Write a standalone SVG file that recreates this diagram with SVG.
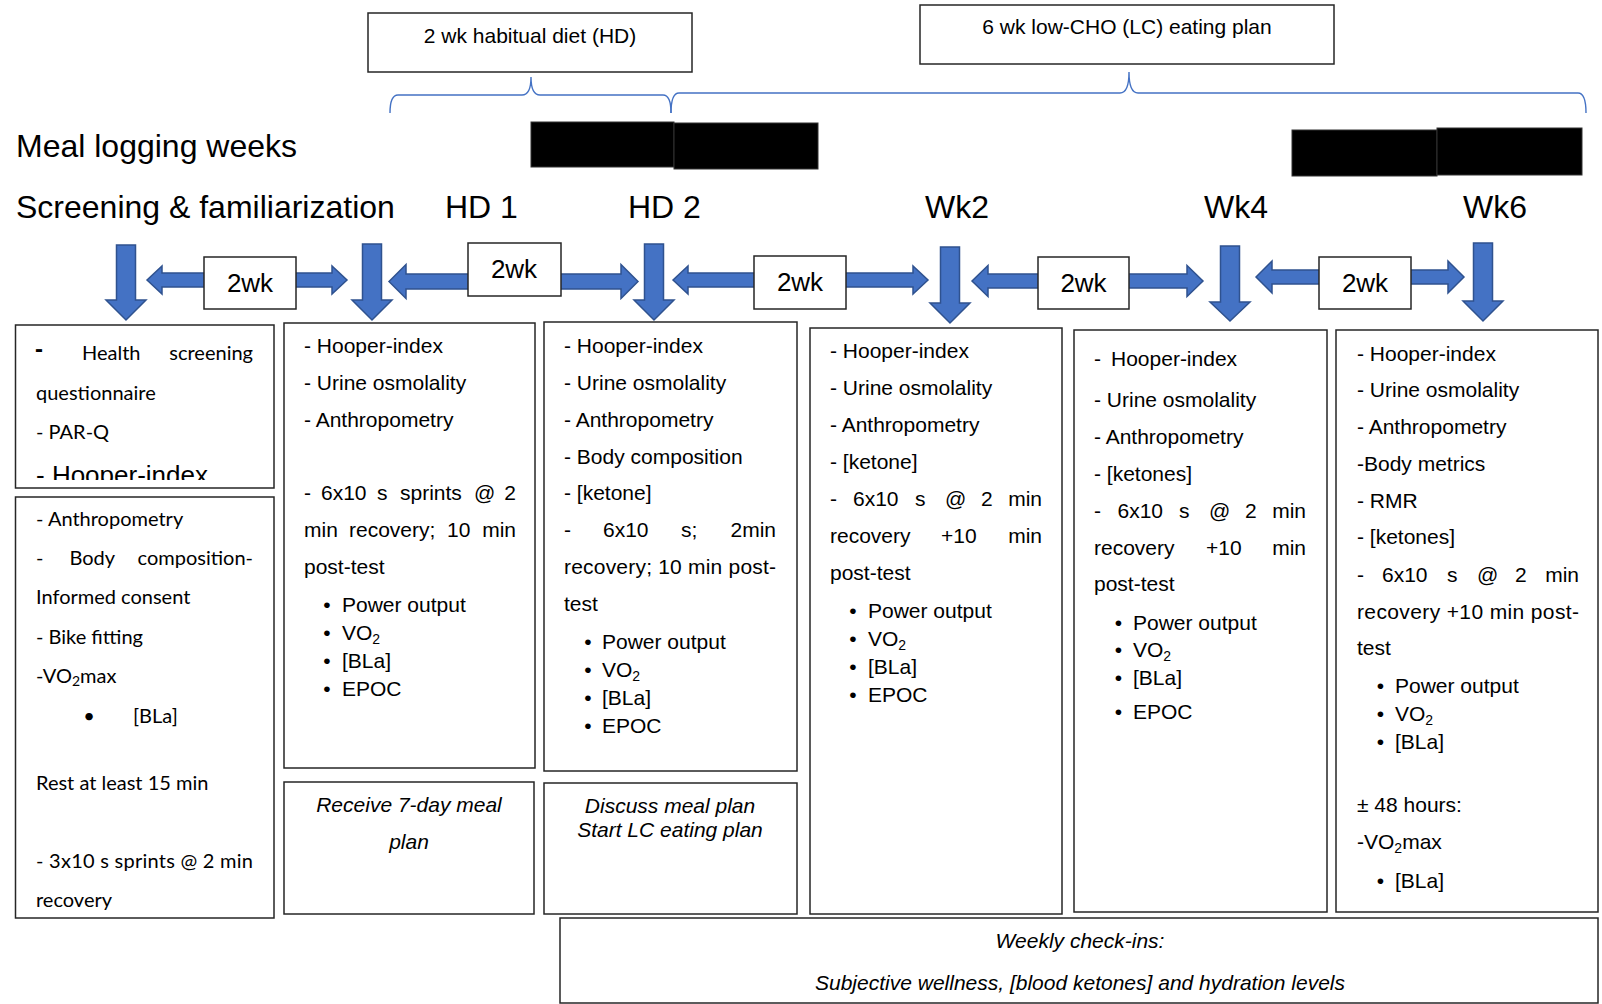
<svg xmlns="http://www.w3.org/2000/svg" width="1602" height="1004" viewBox="0 0 1602 1004">
<style>
.box{fill:#fff;stroke:#262626;stroke-width:1.5}
.arr{fill:#4472C4;stroke:#2F528F;stroke-width:1.5;stroke-linejoin:miter}
.brace{fill:none;stroke:#4472C4;stroke-width:1.4}
.bar{fill:#000;stroke:#333;stroke-width:1}
.t{font-family:"Liberation Sans",Arial,sans-serif;font-size:21px;fill:#000}
.h{font-family:"Liberation Sans",Arial,sans-serif;font-size:32px;fill:#000}
.w{font-family:"Liberation Sans",Arial,sans-serif;font-size:26px;fill:#000;text-anchor:middle}
.c{font-family:Lato,"Open Sans",sans-serif;font-size:20px;fill:#000}
.i{font-style:italic}
.m{text-anchor:middle}
.e{text-anchor:end}
.sub{font-size:14px}
</style>
<defs>
<clipPath id="clip1a"><rect x="15" y="325" width="260" height="155"/></clipPath>
<clipPath id="clip1b"><rect x="15" y="497" width="260" height="414"/></clipPath>
</defs>

<g id="period-hd">
<rect class="box" x="368" y="13" width="324" height="59"/>
<text class="t m" x="530" y="43">2 wk habitual diet (HD)</text>
</g>
<g id="period-lc">
<rect class="box" x="920" y="5" width="414" height="59"/>
<text class="t m" x="1127" y="34">6 wk low-CHO (LC) eating plan</text>
</g>

<g id="braces">
<path class="brace" d="M390,113 Q390,95 398,95 H522 Q531,95 531,77 Q531,95 540,95 H663 Q671,95 671,113"/>
<path class="brace" d="M671,113 Q671,93 679,93 H1120 Q1129,93 1129,72 Q1129,93 1138,93 H1578 Q1586,93 1586,113"/>
</g>

<g id="meal-logging">
<text class="h" x="16" y="157">Meal logging weeks</text>
<rect class="bar" x="531" y="122" width="143" height="45"/>
<rect class="bar" x="674" y="123" width="144" height="46"/>
<rect class="bar" x="1292" y="130" width="145" height="46"/>
<rect class="bar" x="1437" y="128" width="145" height="47"/>
</g>

<g id="headers">
<text class="h" x="16" y="218">Screening &amp; familiarization</text>
<text class="h" x="445" y="218">HD 1</text>
<text class="h" x="628" y="218">HD 2</text>
<text class="h" x="925" y="218">Wk2</text>
<text class="h" x="1204" y="218">Wk4</text>
<text class="h" x="1463" y="218">Wk6</text>
</g>

<g id="connectors">
<path class="arr" d="M116.5,245 H135.5 V300 H146 L126,320 L106,300 H116.5 Z"/>
<path class="arr" d="M362.5,244 H381.5 V300 H392 L372,320 L352,300 H362.5 Z"/>
<path class="arr" d="M644.5,244 H663.5 V300 H674 L654,320 L634,300 H644.5 Z"/>
<path class="arr" d="M940.5,247 H959.5 V303 H970 L950,323 L930,303 H940.5 Z"/>
<path class="arr" d="M1220.5,246 H1239.5 V302 H1250 L1230,321 L1210,302 H1220.5 Z"/>
<path class="arr" d="M1473.5,243 H1492.5 V301 H1503 L1483,321 L1463,301 H1473.5 Z"/>

<path class="arr" d="M147,280 L162,266 V273 H332 V266 L347,280 L332,294 V287 H162 V294 Z"/>
<path class="arr" d="M389,281.5 L406,264.5 V274 H621 V264.5 L638,281.5 L621,298.5 V289 H406 V298.5 Z"/>
<path class="arr" d="M673,280 L688,266 V273 H913 V266 L928,280 L913,294 V287 H688 V294 Z"/>
<path class="arr" d="M972,281 L988,265.5 V274 H1187 V265.5 L1203,281 L1187,296.5 V288 H988 V296.5 Z"/>
<path class="arr" d="M1256,277 L1272,261 V270 H1448 V261 L1464,277 L1448,293 V284 H1272 V293 Z"/>
</g>

<g id="gap1"><rect class="box" x="204" y="257" width="92" height="52"/><text class="w" x="250" y="292">2wk</text></g>
<g id="gap2"><rect class="box" x="468" y="243" width="93" height="53"/><text class="w" x="514" y="278">2wk</text></g>
<g id="gap3"><rect class="box" x="754" y="256" width="92" height="53"/><text class="w" x="800" y="291">2wk</text></g>
<g id="gap4"><rect class="box" x="1038" y="257" width="91" height="52"/><text class="w" x="1083.5" y="292">2wk</text></g>
<g id="gap5"><rect class="box" x="1319" y="257" width="92" height="52"/><text class="w" x="1365" y="292">2wk</text></g>

<g id="screening-a">
<rect class="box" x="15.5" y="325" width="258.5" height="163"/>
<g clip-path="url(#clip1a)">
<text class="t" x="35" y="357" style="font-size:24px;font-weight:bold">-</text>
<text class="c" x="82" y="360">Health</text>
<text class="c e" x="253" y="360">screening</text>
<text class="c" x="36" y="400">questionnaire</text>
<text class="c" x="36" y="439">- PAR-Q</text>
<text class="t" x="36" y="484" style="font-size:26px">- Hooper-index</text>
</g>
</g>

<g id="screening-b">
<rect class="box" x="15.5" y="497" width="258.5" height="421"/>
<g clip-path="url(#clip1b)">
<text class="c" x="36" y="526">- Anthropometry</text>
<text class="c" x="36" y="565">-</text>
<text class="c" x="69.5" y="565">Body</text>
<text class="c e" x="253" y="565">composition-</text>
<text class="c" x="36" y="604">Informed consent</text>
<text class="c" x="36" y="644">- Bike fitting</text>
<text class="c" x="36" y="683">-VO<tspan class="sub" dy="3">2</tspan><tspan dy="-3">max</tspan></text>
<text class="c m" x="89" y="723">•</text>
<text class="c" x="133" y="723">[BLa]</text>
<text class="c" x="36" y="790">Rest at least 15 min</text>
<text class="c" x="36" y="868" textLength="217" lengthAdjust="spacing">- 3x10 s sprints @ 2 min</text>
<text class="c" x="36" y="907">recovery</text>
</g>
</g>

<g id="hd1">
<rect class="box" x="284" y="323" width="251" height="445"/>
<text class="t" x="304" y="353">- Hooper-index</text>
<text class="t" x="304" y="390">- Urine osmolality</text>
<text class="t" x="304" y="427">- Anthropometry</text>
<text class="t" x="304" y="500">-</text>
<text class="t" x="321" y="500">6x10</text>
<text class="t" x="377" y="500">s</text>
<text class="t" x="400" y="500">sprints</text>
<text class="t" x="474" y="500">@</text>
<text class="t e" x="516" y="500">2</text>
<text class="t" x="304" y="537">min</text>
<text class="t" x="349" y="537">recovery;</text>
<text class="t" x="447" y="537">10</text>
<text class="t e" x="516" y="537">min</text>
<text class="t" x="304" y="574">post-test</text>
<text class="t m" x="327" y="612">•</text><text class="t" x="342" y="612">Power output</text>
<text class="t m" x="327" y="640">•</text><text class="t" x="342" y="640">VO<tspan class="sub" dy="4">2</tspan></text>
<text class="t m" x="327" y="668">•</text><text class="t" x="342" y="668">[BLa]</text>
<text class="t m" x="327" y="696">•</text><text class="t" x="342" y="696">EPOC</text>
</g>
<g id="hd1-note">
<rect class="box" x="284" y="782" width="250" height="132"/>
<text class="t i m" x="409" y="812">Receive 7-day meal</text>
<text class="t i m" x="409" y="849">plan</text>
</g>

<g id="hd2">
<rect class="box" x="544" y="322" width="253" height="449"/>
<text class="t" x="564" y="353">- Hooper-index</text>
<text class="t" x="564" y="390">- Urine osmolality</text>
<text class="t" x="564" y="427">- Anthropometry</text>
<text class="t" x="564" y="464">- Body composition</text>
<text class="t" x="564" y="500">- [ketone]</text>
<text class="t" x="564" y="537">-</text>
<text class="t" x="603" y="537">6x10</text>
<text class="t" x="681" y="537">s;</text>
<text class="t e" x="776" y="537">2min</text>
<text class="t" x="564" y="574" textLength="212" lengthAdjust="spacing">recovery; 10 min post-</text>
<text class="t" x="564" y="611">test</text>
<text class="t m" x="588" y="649">•</text><text class="t" x="602" y="649">Power output</text>
<text class="t m" x="588" y="677">•</text><text class="t" x="602" y="677">VO<tspan class="sub" dy="4">2</tspan></text>
<text class="t m" x="588" y="705">•</text><text class="t" x="602" y="705">[BLa]</text>
<text class="t m" x="588" y="733">•</text><text class="t" x="602" y="733">EPOC</text>
</g>
<g id="hd2-note">
<rect class="box" x="544" y="783" width="253" height="131"/>
<text class="t i m" x="670" y="813">Discuss meal plan</text>
<text class="t i m" x="670" y="837">Start LC eating plan</text>
</g>

<g id="wk2">
<rect class="box" x="810" y="328" width="252" height="586"/>
<text class="t" x="830" y="358">- Hooper-index</text>
<text class="t" x="830" y="395">- Urine osmolality</text>
<text class="t" x="830" y="432">- Anthropometry</text>
<text class="t" x="830" y="469">- [ketone]</text>
<text class="t" x="830" y="506">-</text>
<text class="t" x="853" y="506">6x10</text>
<text class="t" x="915" y="506">s</text>
<text class="t" x="945" y="506">@</text>
<text class="t" x="981" y="506">2</text>
<text class="t e" x="1042" y="506">min</text>
<text class="t" x="830" y="543">recovery</text>
<text class="t" x="941" y="543">+10</text>
<text class="t e" x="1042" y="543">min</text>
<text class="t" x="830" y="580">post-test</text>
<text class="t m" x="853" y="618">•</text><text class="t" x="868" y="618">Power output</text>
<text class="t m" x="853" y="646">•</text><text class="t" x="868" y="646">VO<tspan class="sub" dy="4">2</tspan></text>
<text class="t m" x="853" y="674">•</text><text class="t" x="868" y="674">[BLa]</text>
<text class="t m" x="853" y="702">•</text><text class="t" x="868" y="702">EPOC</text>
</g>

<g id="wk4">
<rect class="box" x="1074" y="330" width="253" height="582"/>
<text class="t" x="1094" y="366">-</text>
<text class="t" x="1111" y="366">Hooper-index</text>
<text class="t" x="1094" y="407">- Urine osmolality</text>
<text class="t" x="1094" y="444">- Anthropometry</text>
<text class="t" x="1094" y="481">- [ketones]</text>
<text class="t" x="1094" y="518">-</text>
<text class="t" x="1117.5" y="518">6x10</text>
<text class="t" x="1179" y="518">s</text>
<text class="t" x="1209" y="518">@</text>
<text class="t" x="1245" y="518">2</text>
<text class="t e" x="1306" y="518">min</text>
<text class="t" x="1094" y="555">recovery</text>
<text class="t" x="1206" y="555">+10</text>
<text class="t e" x="1306" y="555">min</text>
<text class="t" x="1094" y="591">post-test</text>
<text class="t m" x="1118.5" y="630">•</text><text class="t" x="1133" y="630">Power output</text>
<text class="t m" x="1118.5" y="657">•</text><text class="t" x="1133" y="657">VO<tspan class="sub" dy="4">2</tspan></text>
<text class="t m" x="1118.5" y="685">•</text><text class="t" x="1133" y="685">[BLa]</text>
<text class="t m" x="1118.5" y="719">•</text><text class="t" x="1133" y="719">EPOC</text>
</g>

<g id="wk6">
<rect class="box" x="1336" y="330" width="262" height="582"/>
<text class="t" x="1357" y="360.5">- Hooper-index</text>
<text class="t" x="1357" y="397">- Urine osmolality</text>
<text class="t" x="1357" y="434">- Anthropometry</text>
<text class="t" x="1357" y="471">-Body metrics</text>
<text class="t" x="1357" y="507.5">- RMR</text>
<text class="t" x="1357" y="544">- [ketones]</text>
<text class="t" x="1357" y="582">-</text>
<text class="t" x="1382" y="582">6x10</text>
<text class="t" x="1447" y="582">s</text>
<text class="t" x="1477" y="582">@</text>
<text class="t" x="1515" y="582">2</text>
<text class="t e" x="1579" y="582">min</text>
<text class="t" x="1357" y="619" textLength="222" lengthAdjust="spacing">recovery +10 min post-</text>
<text class="t" x="1357" y="655">test</text>
<text class="t m" x="1380.5" y="692.5">•</text><text class="t" x="1395" y="692.5">Power output</text>
<text class="t m" x="1380.5" y="721">•</text><text class="t" x="1395" y="721">VO<tspan class="sub" dy="4">2</tspan></text>
<text class="t m" x="1380.5" y="749">•</text><text class="t" x="1395" y="749">[BLa]</text>
<text class="t" x="1357" y="812">± 48 hours:</text>
<text class="t" x="1357" y="849">-VO<tspan class="sub" dy="4">2</tspan><tspan dy="-4">max</tspan></text>
<text class="t m" x="1380.5" y="888">•</text><text class="t" x="1395" y="888">[BLa]</text>
</g>

<g id="weekly">
<rect class="box" x="560" y="918" width="1038" height="85"/>
<text class="t i m" x="1080" y="948">Weekly check-ins:</text>
<text class="t i m" x="1080" y="990">Subjective wellness, [blood ketones] and hydration levels</text>
</g>
</svg>
